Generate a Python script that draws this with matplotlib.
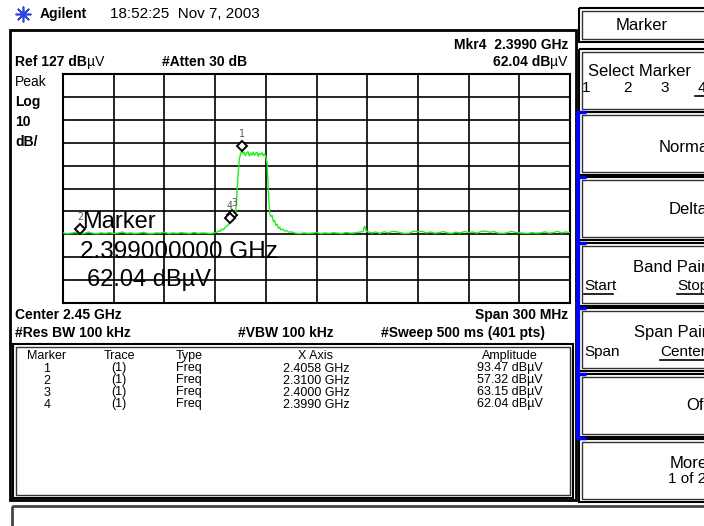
import matplotlib
matplotlib.use("Agg")
import matplotlib.pyplot as plt
import matplotlib.transforms as mtransforms
from matplotlib.patches import Rectangle

plt.rcParams['font.family'] = ['Liberation Sans', 'DejaVu Sans']

# trace 1 (MHz, dBuV) - thinned out from the 401 pt sweep
freq_mhz = [2300, 2302.5, 2305, 2307.5, 2310, 2312.5, 2315, 2317.5, 2320, 2322.5, 2325, 2327.5,
            2330, 2332.5, 2335, 2337.5, 2340, 2342.5, 2345, 2347.5, 2350, 2352.5, 2355, 2357.5,
            2360, 2362.5, 2365, 2367.5, 2370, 2372.5, 2375, 2377.5, 2380, 2382.5, 2385, 2387.5, 2390,
            2391, 2392, 2393, 2394, 2395, 2396, 2397, 2398, 2399, 2400, 2401, 2402, 2402.75, 2403.5,
            2404.25, 2405, 2405.8, 2406.5, 2407.25, 2408, 2408.75, 2409.5, 2410.25, 2411, 2411.75,
            2412.5, 2413.25, 2414, 2414.75, 2415.5, 2416.25, 2417, 2417.75, 2418.5, 2419.25, 2420,
            2420.75, 2421.5, 2422.25, 2423, 2423.75, 2424.5, 2425.25, 2426, 2426.75, 2427.5, 2428.25,
            2429, 2430, 2431, 2432, 2433.5, 2435,
            2437.5, 2440, 2442.5, 2445, 2447.5, 2450, 2452.5, 2455, 2457.5, 2460, 2462.5, 2465,
            2467.5, 2470, 2472.5, 2475, 2477.5, 2478.5, 2479.5, 2482.5, 2485, 2487.5, 2490, 2492.5,
            2495, 2497.5, 2500, 2502.5, 2505, 2507.5, 2510, 2512.5, 2515, 2517.5, 2520, 2522.5,
            2525, 2527.5, 2530, 2532.5, 2535, 2537.5, 2540, 2542.5, 2545, 2547.5, 2550, 2552.5,
            2555, 2557.5, 2560, 2562.5, 2565, 2567.5, 2570, 2572.5, 2575, 2577.5, 2580, 2582.5,
            2585, 2587.5, 2590, 2592.5, 2595, 2597.5, 2600]
level_dbuv = [57.6, 57.2, 57.5, 57.8, 57.3, 57.4, 57.9, 57.5, 57.2, 57.6, 57.4, 57.7,
              57.3, 57.5, 58.0, 57.4, 57.6, 57.3, 57.5, 57.8, 57.4, 57.2, 57.6, 57.5,
              57.9, 57.3, 57.6, 57.4, 57.7, 57.5, 57.3, 57.8, 57.4, 57.6, 57.5, 57.3, 57.7,
              57.9, 58.6, 58.2, 59.3, 59.0, 60.1, 60.6, 61.4, 62.04, 63.15, 63.8, 65.5, 72.0, 82.0,
              89.5, 92.0, 93.47, 92.2, 92.9, 91.3, 92.6, 93.1, 91.2, 92.5, 91.6, 92.9, 91.4, 92.4,
              92.8, 91.1, 92.3, 91.8, 92.6, 91.3, 92.1, 91.0,
              88.0, 76.0, 66.0, 64.8, 65.2, 62.5, 63.0, 60.8, 61.4, 59.6, 60.1,
              58.9, 59.2, 58.4, 58.7, 57.9, 58.1,
              57.5, 57.3, 57.6, 57.4, 57.5, 57.8, 57.3, 57.6, 57.4, 57.7, 57.5, 57.3,
              57.8, 57.5, 57.6, 57.9, 58.2, 60.6, 58.3, 57.6, 58.0, 57.4, 58.1, 57.6,
              58.3, 58.1, 57.6, 57.4, 57.5, 58.4, 58.2, 58.3, 57.6, 58.0, 57.5, 57.7,
              58.2, 57.6, 57.4, 57.9, 57.6, 58.2, 57.8, 58.0, 57.5, 58.3, 58.4, 57.9,
              58.2, 57.5, 57.4, 57.6, 58.3, 57.9, 57.6, 57.5, 57.4, 57.7, 57.5, 57.6,
              58.1, 57.5, 57.7, 58.3, 57.6, 58.0, 57.8]

marker_ids = ['1', '2', '3', '4']
marker_trace = ['(1)', '(1)', '(1)', '(1)']
marker_type = ['Freq', 'Freq', 'Freq', 'Freq']
marker_freq_ghz = [2.4058, 2.3100, 2.4000, 2.3990]
marker_amp = [93.47, 57.32, 63.15, 62.04]

ref_level = 127
db_per_div = 10
start_ghz, stop_ghz = 2.30, 2.60

W, H = 704, 526
fig = plt.figure(figsize=(W / 100, H / 100), dpi=100)
bg = fig.add_axes([0, 0, 1, 1])
bg.set_xlim(0, W)
bg.set_ylim(H, 0)
bg.axis('off')


def px_axes(x0, y0, x1, y1):
    return fig.add_axes([x0 / W, 1 - y1 / H, (x1 - x0) / W, (y1 - y0) / H])


def box(x0, y0, x1, y1, lw=1.5, color='black', double=False):
    bg.add_patch(Rectangle((x0, y0), x1 - x0, y1 - y0, fill=False, lw=lw, ec=color))
    if double:
        bg.add_patch(Rectangle((x0 + 3, y0 + 3), x1 - x0 - 6, y1 - y0 - 6, fill=False, lw=1.0, ec='#333333'))


def txt(x, y, s, size=10, bold=False, ha='left', **kw):
    return bg.text(x, y, s, fontsize=size, fontweight='bold' if bold else 'normal',
                   ha=ha, va='center', **kw)


# --- header ---
bg.scatter([23], [14], marker=(8, 2, 0), s=110, color='#3344dd', lw=1.2)
bg.scatter([23], [14], s=12, color='#3344dd')
txt(40, 14, 'Agilent', size=10, bold=True)
txt(110, 14, '18:52:25  Nov 7, 2003', size=11)

# --- frames ---
box(10, 30, 576, 500, lw=2)
box(13, 344, 573, 498, lw=1.5, double=True)
bg.add_patch(Rectangle((12, 506), 720, 40, fill=False, lw=2, ec='#444444'))

# --- status text ---
txt(15, 62, 'Ref 127 dB', size=10, bold=True)
bg.annotate('\u00b5V', xy=(1, 0.5), xycoords=bg.texts[-1], va='center', fontsize=10)
txt(162, 62, '#Atten 30 dB', size=10, bold=True)
txt(568, 45, 'Mkr4  2.3990 GHz', size=10, bold=True, ha='right')
txt(550, 62, '62.04 dB', size=10, bold=True, ha='right')
bg.annotate('\u00b5V', xy=(1, 0.5), xycoords=bg.texts[-1], va='center', fontsize=10)
txt(15, 82, 'Peak', size=10)
txt(15, 102, 'Log', size=10, bold=True)
txt(15, 122, '10', size=10, bold=True)
txt(15, 142, 'dB/', size=10, bold=True)
txt(15, 315, 'Center 2.45 GHz', size=10, bold=True)
txt(568, 315, 'Span 300 MHz', size=10, bold=True, ha='right')
txt(15, 333, '#Res BW 100 kHz', size=10, bold=True)
txt(238, 333, '#VBW 100 kHz', size=10, bold=True)
txt(381, 333, '#Sweep 500 ms (401 pts)', size=10, bold=True)

# --- trace grid ---
ax = px_axes(63, 74, 570, 303)
freq_ghz = [f / 1000 for f in freq_mhz]
ax.plot(freq_ghz, level_dbuv, color='#22ee22', lw=1.0, zorder=3)
ax.set_xlim(start_ghz, stop_ghz)
ax.set_ylim(ref_level - 10 * db_per_div, ref_level)
ax.set_xticks([start_ghz + i * (stop_ghz - start_ghz) / 10 for i in range(11)])
ax.set_yticks([ref_level - i * db_per_div for i in range(11)])
ax.grid(color='black', lw=1.2, zorder=1)
ax.tick_params(length=0, labelbottom=False, labelleft=False)
for sp in ax.spines.values():
    sp.set_linewidth(1.5)

dia = mtransforms.offset_copy(ax.transData, fig=fig, x=0, y=5, units='dots')
lab = mtransforms.offset_copy(ax.transData, fig=fig, x=0, y=17, units='dots')
lab_dx = [0, 0, 1.5, -0.5]
for i, m in enumerate(marker_ids):
    ax.plot(marker_freq_ghz[i], marker_amp[i], marker='D', ms=5.5, mfc='white', mec='black',
            mew=1.4, transform=dia, zorder=5)
    ax.text(marker_freq_ghz[i] + lab_dx[i] / 1000, marker_amp[i], m, transform=lab, fontsize=7,
            family='DejaVu Sans Mono', color='#555555', ha='center', va='center', zorder=5)

# big active marker readout drawn across the grid
bg.text(82, 222, 'Marker', fontsize=17, va='center', zorder=10)
bg.text(80, 252, '2.399000000 GHz', fontsize=17.5, va='center', zorder=10)
bg.text(87, 280, '62.04 dB\u00b5V', fontsize=17, va='center', zorder=10)
bg.set_zorder(5)
bg.patch.set_alpha(0)

# --- marker table ---
col_x = [47, 119, 176, 316, 510]
col_ha = ['center', 'center', 'left', 'center', 'center']
headers = ['Marker', 'Trace', 'Type', 'X Axis', 'Amplitude']
for x, ha, h in zip(col_x, col_ha, headers):
    txt(x, 356, h, size=9, ha=ha)
for i in range(len(marker_ids)):
    y = 368.5 + 12 * i
    row = [marker_ids[i], marker_trace[i], marker_type[i],
           '%.4f GHz' % marker_freq_ghz[i], '%.2f dB\u00b5V' % marker_amp[i]]
    for x, ha, s in zip(col_x, col_ha, row):
        txt(x, y, s, size=9, ha=ha)

# --- softkey panel ---
box(579, 8, 712, 42, lw=1.5, double=True)
txt(642, 26, 'Marker', size=12, ha='center')
key_tops = [49, 112, 177, 243, 308, 374, 439]
for top in key_tops:
    box(579, top, 712, top + 63, lw=1.5, double=True)
bg.plot([577.5, 577.5], [112, 438], color='#0000ff', lw=3, solid_capstyle='butt')
for yy in key_tops[1:6] + [438]:
    bg.plot([576, 586], [yy, yy], color='#0000ff', lw=2.5, solid_capstyle='butt')

txt(588, 72, 'Select Marker', size=12)
for x, s in zip([582, 623, 660, 698], ['1', '2', '3', '4']):
    txt(x, 88, s, size=11)
bg.plot([695, 704], [96, 96], color='black', lw=1.2)

softkey_labels = ['Normal', 'Delta', 'Band Pair', 'Span Pair', 'Off', 'More']
softkey_y = [147, 210, 268, 332, 406, 463]
softkey_x = [713, 708, 707, 707, 708, 708]
for s, y, x in zip(softkey_labels, softkey_y, softkey_x):
    txt(x, y, s, size=12, ha='right')
txt(706, 479, '1 of 2', size=11, ha='right')
txt(584, 286, 'Start', size=11)
bg.plot([584, 613], [294, 294], color='black', lw=1.2)
txt(677, 286, 'Stop', size=11)
bg.plot([677, 704], [294, 294], color='black', lw=1.2)
txt(584, 352, 'Span', size=11)
txt(660, 352, 'Center', size=11)
bg.plot([660, 704], [360, 360], color='black', lw=1.2)

fig.savefig('out.png', dpi=100)
